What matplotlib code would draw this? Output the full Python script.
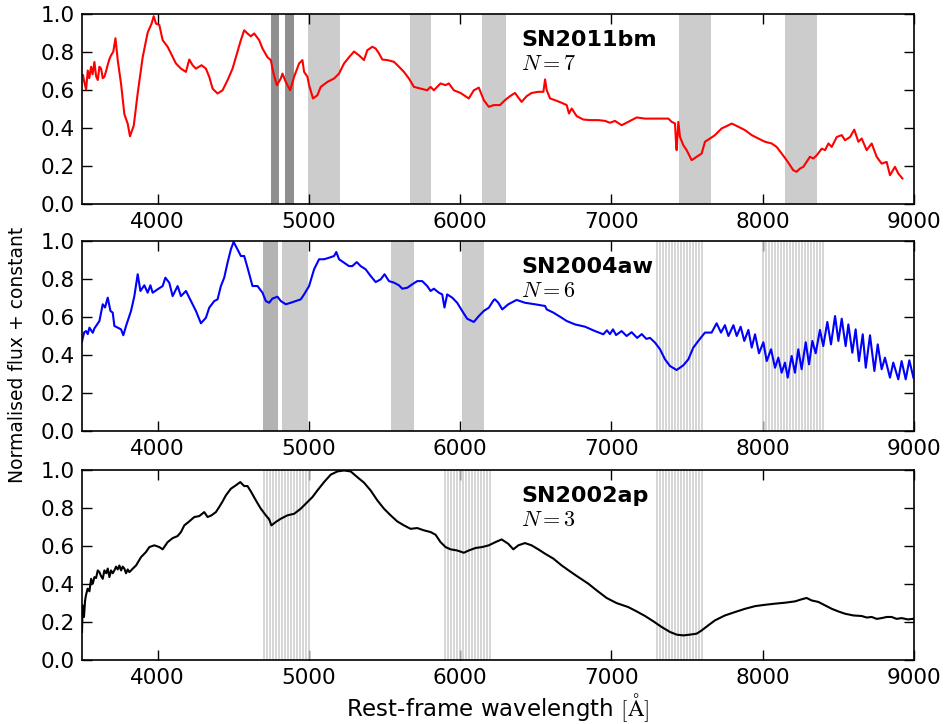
import numpy as np
import matplotlib
matplotlib.use('Agg')
import matplotlib.pyplot as plt

# SN2011bm (red, top panel)
wave_11bm = [3507, 3515, 3527, 3538, 3548, 3560, 3570, 3582, 3593, 3604, 3615, 3626, 3637, 3648, 3660, 3670,
             3681, 3692, 3707, 3721, 3736, 3758, 3780, 3802, 3817, 3842, 3868, 3901, 3934, 3960, 3974,
             3989, 4011, 4033, 4066, 4088, 4121, 4154, 4187, 4209, 4231, 4253, 4290, 4319, 4341, 4363,
             4396, 4429, 4462, 4495, 4528, 4550, 4572, 4594, 4616, 4638, 4671, 4693, 4726, 4748, 4766,
             4788, 4814, 4825, 4847, 4876, 4902, 4935, 4957, 4968, 4990, 5001, 5027, 5056, 5078, 5122,
             5166, 5199, 5232, 5265, 5298, 5331, 5364, 5386, 5419, 5441, 5463, 5485, 5518, 5562, 5595,
             5628, 5661, 5694, 5738, 5782, 5804, 5826, 5870, 5903, 5925, 5958, 6002, 6057, 6090, 6123,
             6156, 6189, 6222, 6263, 6296, 6329, 6362, 6384, 6406, 6439, 6472, 6516, 6550, 6561, 6572,
             6594, 6627, 6671, 6704, 6719, 6737, 6770, 6814, 6858, 6913, 6957, 6990, 7023, 7067, 7111,
             7167, 7222, 7277, 7332, 7376, 7398, 7420, 7428, 7431, 7442, 7453, 7475, 7497, 7530, 7563,
             7596, 7618, 7651, 7684, 7728, 7773, 7795, 7839, 7883, 7927, 7971, 8015, 8059, 8092, 8125,
             8158, 8180, 8202, 8224, 8246, 8268, 8290, 8312, 8334, 8357, 8390, 8412, 8434, 8456, 8489,
             8522, 8544, 8577, 8605, 8632, 8654, 8687, 8720, 8753, 8786, 8819, 8841, 8874, 8896, 8923]
flux_11bm = [0.675, 0.64, 0.60, 0.70, 0.66, 0.72, 0.68, 0.745, 0.67, 0.65, 0.72, 0.71, 0.66, 0.667, 0.70, 0.73,
             0.76, 0.78, 0.80, 0.87, 0.755, 0.63, 0.47, 0.42, 0.354, 0.41, 0.58, 0.77, 0.90, 0.947, 0.986,
             0.947, 0.94, 0.86, 0.825, 0.79, 0.737, 0.71, 0.693, 0.758, 0.728, 0.71, 0.728, 0.71, 0.667, 0.605,
             0.579, 0.596, 0.649, 0.71, 0.80, 0.86, 0.912, 0.895, 0.88, 0.895, 0.86, 0.816, 0.77, 0.755, 0.684,
             0.623, 0.658, 0.684, 0.64, 0.596, 0.667, 0.737, 0.755, 0.693, 0.667, 0.623, 0.553, 0.57, 0.614, 0.64,
             0.658, 0.684, 0.737, 0.77, 0.80, 0.78, 0.755, 0.807, 0.825, 0.816, 0.79, 0.758, 0.755, 0.746, 0.72,
             0.693, 0.658, 0.614, 0.605, 0.596, 0.614, 0.596, 0.632, 0.623, 0.632, 0.596, 0.582, 0.553, 0.596, 0.61,
             0.544, 0.509, 0.518, 0.518, 0.544, 0.565, 0.582, 0.558, 0.535, 0.565, 0.582, 0.588, 0.588, 0.653, 0.596,
             0.553, 0.544, 0.53, 0.518, 0.474, 0.50, 0.46, 0.442, 0.439, 0.439, 0.435, 0.425, 0.435, 0.412, 0.43,
             0.453, 0.447, 0.447, 0.447, 0.447, 0.43, 0.421, 0.30, 0.281, 0.43, 0.35, 0.307, 0.281, 0.228, 0.246,
             0.263, 0.325, 0.342, 0.36, 0.395, 0.412, 0.421, 0.404, 0.386, 0.36, 0.342, 0.325, 0.316, 0.298, 0.263,
             0.228, 0.202, 0.175, 0.167, 0.184, 0.193, 0.219, 0.246, 0.237, 0.254, 0.289, 0.281, 0.316, 0.298, 0.35,
             0.36, 0.333, 0.35, 0.389, 0.325, 0.342, 0.281, 0.316, 0.246, 0.21, 0.219, 0.149, 0.193, 0.158, 0.132]

# SN2004aw (blue, middle panel)
wave_04aw = [3500, 3505, 3515, 3527, 3538, 3549, 3560, 3571, 3582, 3593, 3615, 3637, 3652, 3670, 3688, 3703,
             3714, 3736, 3758, 3773, 3791, 3824, 3846, 3868, 3886, 3912, 3934, 3952, 3967, 4000, 4033,
             4051, 4077, 4099, 4132, 4154, 4187, 4220, 4253, 4286, 4319, 4341, 4374, 4396, 4418, 4440,
             4462, 4484, 4502, 4528, 4550, 4572, 4594, 4627, 4660, 4693, 4715, 4737, 4759, 4792, 4814,
             4847, 4880, 4913, 4946, 4968, 5001, 5034, 5067, 5100, 5133, 5166, 5181, 5199, 5232, 5265,
             5287, 5316, 5342, 5375, 5408, 5441, 5474, 5500, 5529, 5562, 5595, 5617, 5650, 5683, 5716,
             5749, 5782, 5804, 5826, 5859, 5881, 5896, 5914, 5947, 5980, 6013, 6046, 6090, 6123, 6156,
             6189, 6222, 6230, 6252, 6278, 6318, 6373, 6428, 6494, 6561, 6572, 6616, 6671, 6704, 6759,
             6825, 6891, 6946, 6970, 6990, 7010, 7030, 7067, 7100, 7133, 7170, 7200, 7230, 7255, 7288,
             7321, 7354, 7387, 7431, 7475, 7508, 7541, 7574, 7618, 7662, 7695, 7724, 7750, 7773, 7806,
             7828, 7854, 7878, 7905, 7927, 7949, 7975, 8004, 8026, 8055, 8081, 8103, 8125, 8147, 8165,
             8191, 8213, 8235, 8257, 8284, 8306, 8328, 8350, 8378, 8400, 8427, 8451, 8478, 8500, 8522,
             8548, 8566, 8592, 8614, 8636, 8661, 8681, 8709, 8738, 8760, 8786, 8808, 8841, 8863, 8896,
             8918, 8945, 8969, 8996]
flux_04aw = [0.47, 0.49, 0.52, 0.526, 0.51, 0.544, 0.53, 0.517, 0.54, 0.553, 0.579, 0.667, 0.65, 0.702, 0.632, 0.623,
             0.553, 0.544, 0.535, 0.504, 0.553, 0.632, 0.71, 0.825, 0.737, 0.767, 0.728, 0.767, 0.728, 0.746, 0.763,
             0.807, 0.78, 0.71, 0.763, 0.71, 0.737, 0.684, 0.632, 0.567, 0.596, 0.649, 0.684, 0.693, 0.763, 0.807,
             0.886, 0.956, 0.995, 0.956, 0.921, 0.921, 0.86, 0.763, 0.763, 0.728, 0.684, 0.675, 0.697, 0.707, 0.684,
             0.667, 0.675, 0.684, 0.693, 0.719, 0.763, 0.851, 0.904, 0.904, 0.912, 0.921, 0.942, 0.904, 0.886, 0.868,
             0.868, 0.889, 0.868, 0.851, 0.816, 0.784, 0.798, 0.825, 0.789, 0.781, 0.767, 0.749, 0.754, 0.772, 0.789,
             0.789, 0.763, 0.737, 0.749, 0.728, 0.719, 0.65, 0.719, 0.702, 0.675, 0.632, 0.591, 0.574, 0.605, 0.632,
             0.649, 0.69, 0.693, 0.675, 0.64, 0.667, 0.69, 0.675, 0.667, 0.658, 0.64, 0.623, 0.596, 0.579, 0.561,
             0.549, 0.526, 0.509, 0.53, 0.51, 0.535, 0.505, 0.526, 0.50, 0.52, 0.49, 0.51, 0.485, 0.49, 0.465,
             0.43, 0.377, 0.342, 0.321, 0.346, 0.377, 0.439, 0.474, 0.518, 0.518, 0.567, 0.518, 0.557, 0.50, 0.557,
             0.50, 0.549, 0.474, 0.532, 0.439, 0.509, 0.409, 0.467, 0.368, 0.43, 0.333, 0.386, 0.307, 0.36, 0.281,
             0.395, 0.307, 0.43, 0.325, 0.467, 0.351, 0.474, 0.409, 0.532, 0.447, 0.574, 0.456, 0.605, 0.474, 0.591,
             0.447, 0.561, 0.412, 0.535, 0.368, 0.509, 0.333, 0.504, 0.316, 0.456, 0.325, 0.386, 0.281, 0.36, 0.272,
             0.368, 0.272, 0.372, 0.281]

# SN2002ap (black, bottom panel)
wave_02ap = [3500, 3504, 3513, 3520, 3526, 3537, 3549, 3560, 3571, 3582, 3593, 3604, 3615, 3626, 3637, 3648,
             3660, 3670, 3681, 3692, 3703, 3714, 3725, 3736, 3747, 3758, 3769, 3780, 3791, 3802, 3813,
             3835, 3857, 3890, 3923, 3945, 3978, 4011, 4033, 4066, 4099, 4132, 4154, 4176, 4209, 4242,
             4275, 4308, 4330, 4356, 4385, 4407, 4429, 4451, 4484, 4517, 4546, 4572, 4594, 4616, 4649,
             4682, 4715, 4737, 4752, 4781, 4814, 4858, 4902, 4946, 4990, 5023, 5056, 5100, 5144, 5188,
             5232, 5276, 5320, 5364, 5408, 5452, 5496, 5540, 5584, 5628, 5672, 5716, 5760, 5804, 5837,
             5870, 5903, 5936, 5980, 6024, 6057, 6101, 6145, 6189, 6233, 6274, 6318, 6351, 6384, 6428,
             6472, 6516, 6561, 6616, 6671, 6726, 6781, 6847, 6902, 6968, 7034, 7111, 7167, 7222, 7277,
             7332, 7387, 7431, 7475, 7519, 7563, 7596, 7640, 7684, 7750, 7817, 7883, 7949, 8015, 8081,
             8147, 8213, 8257, 8290, 8323, 8368, 8412, 8456, 8500, 8544, 8599, 8654, 8687, 8720, 8753,
             8786, 8820, 8852, 8885, 8918, 8960, 9002]
flux_02ap = [0.146, 0.286, 0.225, 0.31, 0.339, 0.374, 0.36, 0.426, 0.40, 0.435, 0.43, 0.47, 0.461, 0.44, 0.426, 0.47,
             0.455, 0.48, 0.435, 0.47, 0.455, 0.47, 0.49, 0.475, 0.496, 0.47, 0.49, 0.479, 0.455, 0.475, 0.461,
             0.479, 0.496, 0.54, 0.567, 0.593, 0.602, 0.593, 0.581, 0.619, 0.64, 0.651, 0.672, 0.707, 0.728, 0.751,
             0.756, 0.777, 0.751, 0.76, 0.777, 0.804, 0.833, 0.865, 0.90, 0.918, 0.935, 0.914, 0.914, 0.886, 0.839,
             0.795, 0.76, 0.739, 0.707, 0.725, 0.742, 0.76, 0.768, 0.795, 0.83, 0.856, 0.891, 0.935, 0.974, 0.991,
             0.996, 0.991, 0.961, 0.932, 0.891, 0.839, 0.795, 0.76, 0.728, 0.707, 0.689, 0.693, 0.681, 0.672, 0.658,
             0.619, 0.593, 0.581, 0.575, 0.563, 0.575, 0.588, 0.593, 0.602, 0.619, 0.633, 0.61, 0.581, 0.602, 0.614,
             0.602, 0.581, 0.558, 0.532, 0.496, 0.465, 0.435, 0.40, 0.365, 0.325, 0.298, 0.277, 0.254, 0.23, 0.202,
             0.172, 0.146, 0.132, 0.128, 0.132, 0.137, 0.154, 0.181, 0.207, 0.233, 0.251, 0.268, 0.282, 0.289, 0.295,
             0.30, 0.307, 0.318, 0.325, 0.312, 0.304, 0.286, 0.268, 0.254, 0.242, 0.233, 0.23, 0.222, 0.225, 0.215,
             0.219, 0.225, 0.225, 0.215, 0.219, 0.212, 0.216]

names = ['SN2011bm', 'SN2004aw', 'SN2002ap']
n_labels = ['$N=7$', '$N=6$', '$N=3$']
colours = ['red', 'blue', 'black']

# shaded regions: (start, end) in Angstrom
dark_bands = [[(4752, 4800), (4845, 4900)],
              [(4695, 4795)],
              []]
solid_bands = [[(4995, 5205), (5665, 5805), (6145, 6305), (7445, 7655), (8148, 8360)],
               [(4825, 4997), (5545, 5695), (6013, 6155)],
               []]
line_bands = [[],
              [(7300, 7600), (8000, 8400)],
              [(4700, 5000), (5900, 6200), (7300, 7600)]]
line_step = 20

plt.rcParams['mathtext.fontset'] = 'cm'
plt.rcParams['xtick.direction'] = 'in'
plt.rcParams['ytick.direction'] = 'in'
plt.rcParams['xtick.top'] = True
plt.rcParams['ytick.right'] = True

fig = plt.figure(figsize=(9.46, 7.24), dpi=100)
bottoms = [0.7189, 0.4047, 0.0888]
spectra = [(wave_11bm, flux_11bm), (wave_04aw, flux_04aw), (wave_02ap, flux_02ap)]

for i in range(3):
    ax = fig.add_axes([0.0867, bottoms[i], 0.8795, 0.2624])
    for a, b in solid_bands[i]:
        ax.axvspan(a, b, color='0.8', lw=0)
    for a, b in dark_bands[i]:
        ax.axvspan(a, b, color='0.56' if i == 0 else '0.7', lw=0)
    for a, b in line_bands[i]:
        for x in np.arange(a, b + 1, line_step):
            ax.axvline(x, color='0.8', lw=1.1)
    w, f = spectra[i]
    ax.plot(w, f, color=colours[i], lw=1.5)
    ax.text(0.528, 0.83, names[i], transform=ax.transAxes, fontsize=16,
            fontweight='bold', va='baseline')
    ax.text(0.528, 0.703, n_labels[i], transform=ax.transAxes, fontsize=16,
            va='baseline')
    ax.set_xlim(3500, 9000)
    ax.set_ylim(0, 1)
    ax.set_xticks([4000, 5000, 6000, 7000, 8000, 9000])
    ax.set_yticks([0.0, 0.2, 0.4, 0.6, 0.8, 1.0])
    ax.tick_params(labelsize=15.5, length=7, width=1)
    ax.tick_params(axis='x', pad=6)
    ax.tick_params(axis='y', pad=5)
    for s in ax.spines.values():
        s.set_linewidth(1.2)

fig.text(0.019, 0.51, 'Normalised flux + constant', rotation=90, fontsize=13.5,
         va='center', ha='center')
fig.text(0.526, 0.023, 'Rest-frame wavelength $[\\mathrm{\\AA}]$', fontsize=16.5,
         ha='center', va='center')

plt.savefig('out.png', dpi=100)
